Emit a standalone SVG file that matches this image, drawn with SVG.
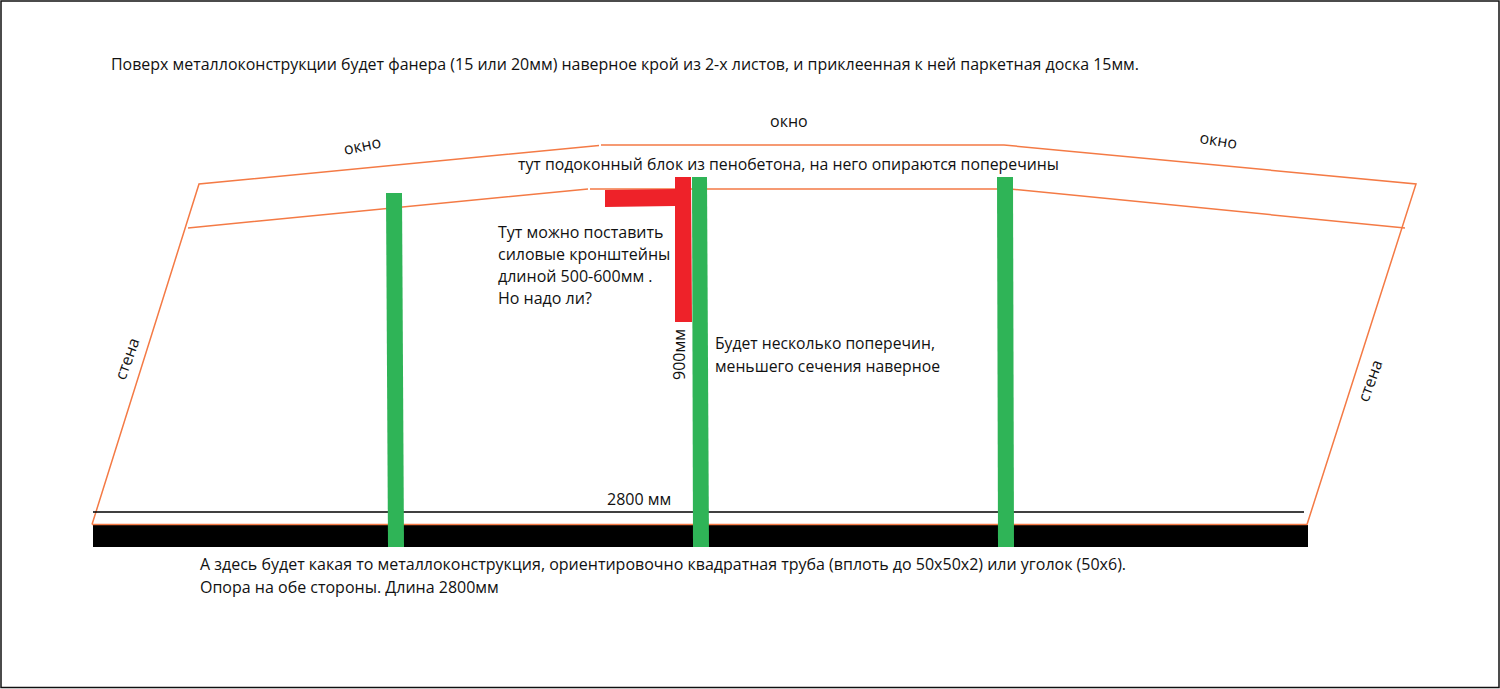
<svg xmlns="http://www.w3.org/2000/svg" width="1500" height="689" viewBox="0 0 1500 689">
<style>
text{font-family:"Open Sans","Noto Sans",sans-serif;font-size:16px;fill:#111}
.o{fill:none;stroke:#f47a45;stroke-width:1.500}
.g{fill:#2fb457}
</style>
<rect x="0" y="0" width="1500" height="689" fill="#fff"/>
<rect x="1" y="1" width="1498" height="686.500" fill="none" stroke="#111" stroke-width="1.500"/>
<g id="beam"><rect x="93" y="525" width="1215" height="22" fill="#000"/></g>
<g id="connectors">
<path class="o" d="M92 524.500L199 184L599 145.500M601 145H1004L1416 184L1307 524.500H92"/>
<path class="o" d="M188 228L588 189M590 189H1010L1405 228"/>
<path d="M93 512H1304" stroke="#000" stroke-width="1.300" fill="none"/>
</g>
<g id="bracket"><path d="M675 177H691L692 322H675V206L605 207V190L675 189Z" fill="#ee2229"/></g>
<g id="bar1"><path class="g" d="M386 193H402L404 547H388Z"/></g>
<g id="bar2"><path class="g" d="M692 177H707L709 547H693Z"/></g>
<g id="bar3"><path class="g" d="M997 177H1013L1014 547H998Z"/></g>
<g id="labels">
<text x="111" y="70" textLength="1028" lengthAdjust="spacingAndGlyphs">Поверх металлоконструкции будет фанера (15 или 20мм) наверное крой из 2-х листов, и приклеенная к ней паркетная доска 15мм.</text>
<text x="770" y="127">окно</text>
<text x="345" y="155" transform="rotate(-12 345 155)">окно</text>
<text x="1199" y="143" transform="rotate(9 1199 143)">окно</text>
<text x="518" y="170" textLength="541" lengthAdjust="spacingAndGlyphs">тут подоконный блок из пенобетона, на него опираются поперечины</text>
<text x="498" y="238">Тут можно поставить</text>
<text x="498" y="260">силовые кронштейны</text>
<text x="498" y="282">длиной 500-600мм .</text>
<text x="498" y="304">Но надо ли?</text>
<text x="715" y="349" textLength="220" lengthAdjust="spacingAndGlyphs">Будет несколько поперечин,</text>
<text x="715" y="372" textLength="225" lengthAdjust="spacingAndGlyphs">меньшего сечения наверное</text>
<text x="685" y="380" transform="rotate(-90 685 380)">900мм</text>
<text x="125" y="381" transform="rotate(-70 125 381)">стена</text>
<text x="1368" y="403" transform="rotate(-70 1368 403)">стена</text>
<text x="607" y="505">2800 мм</text>
<text x="200" y="570">А здесь будет какая то металлоконструкция, ориентировочно квадратная труба (вплоть до 50х50х2) или уголок (50х6).</text>
<text x="200" y="593">Опора на обе стороны. Длина 2800мм</text>
</g>
</svg>
